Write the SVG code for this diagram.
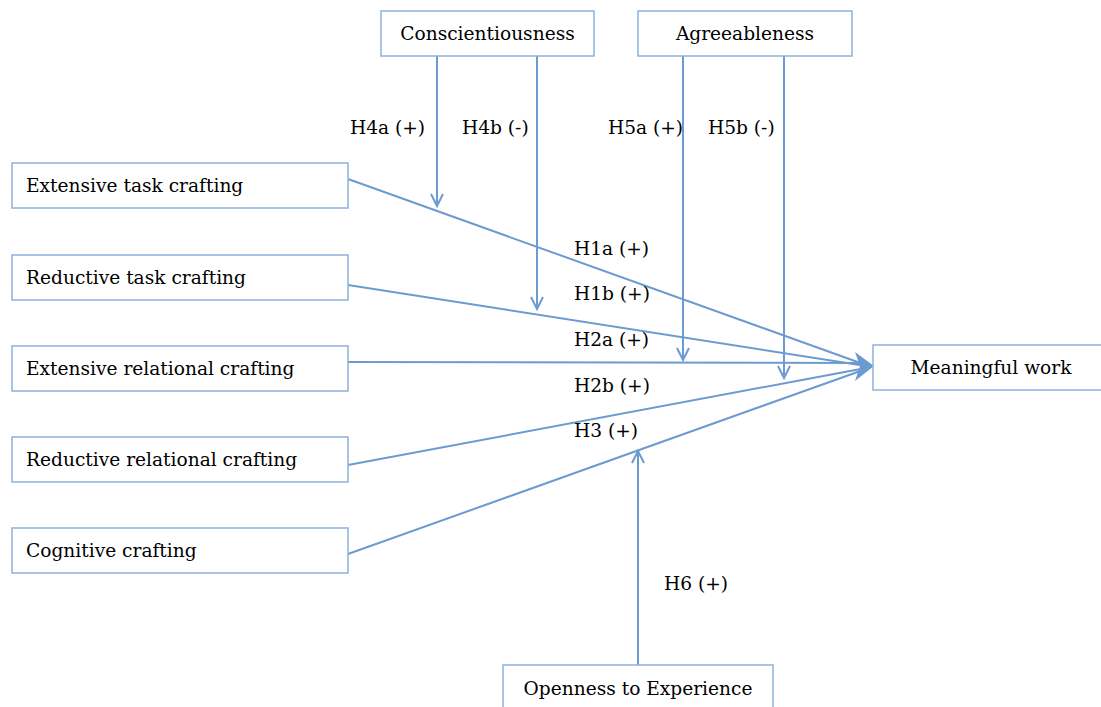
<svg xmlns="http://www.w3.org/2000/svg" width="1101" height="707" viewBox="0 0 1101 707">
<style>
.box{fill:#fff;stroke:#8fb1dd;stroke-width:1.5}
.t{font-family:"DejaVu Serif","Liberation Serif",serif;font-size:18.6px;fill:#000}
.c{stroke:#6b9bd1;stroke-width:2;fill:none}
</style>
<rect width="1101" height="707" fill="#fff"/>
<g id="connectors">
<line class="c" x1="348" y1="179" x2="866" y2="365"/>
<line class="c" x1="348" y1="285" x2="866" y2="366"/>
<line class="c" x1="348" y1="362" x2="866" y2="363"/>
<line class="c" x1="348" y1="465" x2="866" y2="368"/>
<line class="c" x1="348" y1="554" x2="866" y2="369"/>
<polygon points="855,352 874,366 855,381 860,366" fill="#6b9bd1"/>
<line class="c" x1="437" y1="56" x2="437" y2="206"/>
<polyline class="c" points="431,194 437,206 443,194"/>
<line class="c" x1="537" y1="56" x2="537" y2="309"/>
<polyline class="c" points="531,297 537,309 543,297"/>
<line class="c" x1="683" y1="56" x2="683" y2="360"/>
<polyline class="c" points="677,348 683,360 689,348"/>
<line class="c" x1="784" y1="56" x2="784" y2="378"/>
<polyline class="c" points="778,366 784,378 790,366"/>
<line class="c" x1="638" y1="665" x2="638" y2="451"/>
<polyline class="c" points="632,463 638,451 644,463"/>
</g>
<g id="labels">
<text class="t" x="350" y="134">H4a (+)</text>
<text class="t" x="462" y="134">H4b (-)</text>
<text class="t" x="608" y="134">H5a (+)</text>
<text class="t" x="708" y="134">H5b (-)</text>
<text class="t" x="574" y="255">H1a (+)</text>
<text class="t" x="574" y="300">H1b (+)</text>
<text class="t" x="574" y="346">H2a (+)</text>
<text class="t" x="574" y="392">H2b (+)</text>
<text class="t" x="574" y="437">H3 (+)</text>
<text class="t" x="664" y="590">H6 (+)</text>
</g>
<g id="conscientiousness"><rect class="box" x="381" y="11" width="213" height="45"/><text class="t" x="487.5" y="40" text-anchor="middle">Conscientiousness</text></g>
<g id="agreeableness"><rect class="box" x="638" y="11" width="214" height="45"/><text class="t" x="745" y="40" text-anchor="middle">Agreeableness</text></g>
<g id="extensive-task"><rect class="box" x="12" y="163" width="336" height="45"/><text class="t" x="26" y="192">Extensive task crafting</text></g>
<g id="reductive-task"><rect class="box" x="12" y="255" width="336" height="45"/><text class="t" x="26" y="284">Reductive task crafting</text></g>
<g id="extensive-relational"><rect class="box" x="12" y="346" width="336" height="45"/><text class="t" x="26" y="375">Extensive relational crafting</text></g>
<g id="reductive-relational"><rect class="box" x="12" y="437" width="336" height="45"/><text class="t" x="26" y="466">Reductive relational crafting</text></g>
<g id="cognitive"><rect class="box" x="12" y="528" width="336" height="45"/><text class="t" x="26" y="557">Cognitive crafting</text></g>
<g id="meaningful-work"><rect class="box" x="873" y="345" width="240" height="45"/><text class="t" x="991" y="374" text-anchor="middle">Meaningful work</text></g>
<g id="openness"><rect class="box" x="503" y="665" width="270" height="60"/><text class="t" x="638" y="695" text-anchor="middle">Openness to Experience</text></g>
</svg>
